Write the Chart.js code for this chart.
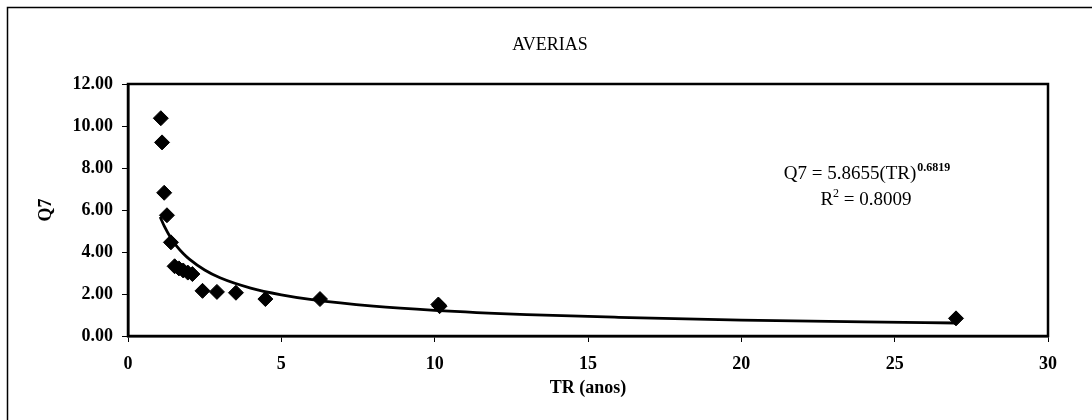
<!DOCTYPE html>
<html><head><meta charset="utf-8">
<script src="https://cdn.jsdelivr.net/npm/chart.js@4.4.0/dist/chart.umd.min.js"></script>
<style>html,body{margin:0;padding:0;background:#fff;}</style>
</head><body>
<canvas id="c" width="1092" height="420"></canvas>
<script>
const chartTitle = 'AVERIAS';
const xAxisTitle = 'TR (anos)';
const yAxisTitle = 'Q7';
const xTicks = [0, 5, 10, 15, 20, 25, 30];
const yTicks = [0, 2, 4, 6, 8, 10, 12];
const obsTR = [1.07, 1.11, 1.18, 1.27, 1.40, 1.52, 1.66, 1.80, 1.95, 2.10, 2.43, 2.90, 3.52, 4.48, 6.26, 10.12, 10.16, 27.0];
const obsQ7 = [10.37, 9.22, 6.82, 5.75, 4.46, 3.32, 3.22, 3.12, 3.02, 2.95, 2.15, 2.10, 2.06, 1.76, 1.76, 1.50, 1.42, 0.84];
const trendTR = [1.05, 1.2, 1.4, 1.6, 1.8, 2.0, 2.5, 3, 4, 5, 6, 8, 10, 13, 16, 20, 24, 27];
const trendQ7 = [5.67, 5.18, 4.66, 4.26, 3.93, 3.66, 3.14, 2.77, 2.28, 1.96, 1.73, 1.42, 1.22, 1.02, 0.89, 0.76, 0.67, 0.62];
const eqMain = 'Q7 = 5.8655(TR)';
const eqExp = '0.6819';
const r2Main = 'R';
const r2Sup = '2';
const r2Rest = ' = 0.8009';

const FONT = '"Liberation Serif", "Times New Roman", serif';

const decor = {
  id: 'decor',
  afterDraw(chart) {
    const {ctx, chartArea: a} = chart;
    ctx.save();
    ctx.strokeStyle = '#000';
    ctx.lineWidth = 1.5;
    ctx.strokeRect(7.5, 7.5, 1120, 440);
    ctx.lineWidth = 2.5;
    ctx.strokeRect(a.left, a.top, a.right - a.left, a.bottom - a.top);
    ctx.fillStyle = '#000';
    ctx.textBaseline = 'alphabetic';
    ctx.textAlign = 'center';
    ctx.font = '18px ' + FONT;
    ctx.fillText(chartTitle, 550, 50);
    // equation line 1
    ctx.textAlign = 'left';
    ctx.font = '19px ' + FONT;
    const mw = ctx.measureText(eqMain).width;
    ctx.font = 'bold 12px ' + FONT;
    const ew = ctx.measureText(eqExp).width;
    let x0 = 867 - (mw + ew + 1) / 2;
    ctx.font = '19px ' + FONT;
    ctx.fillText(eqMain, x0, 179);
    ctx.font = 'bold 12px ' + FONT;
    ctx.fillText(eqExp, x0 + mw + 1, 171);
    // line 2
    ctx.font = '19px ' + FONT;
    const rw = ctx.measureText(r2Main).width;
    const restW = ctx.measureText(r2Rest).width;
    ctx.font = '12px ' + FONT;
    const sw = ctx.measureText(r2Sup).width;
    x0 = 866 - (rw + sw + restW) / 2;
    ctx.font = '19px ' + FONT;
    ctx.fillText(r2Main, x0, 205);
    ctx.font = '12px ' + FONT;
    ctx.fillText(r2Sup, x0 + rw, 197);
    ctx.font = '19px ' + FONT;
    ctx.fillText(r2Rest, x0 + rw + sw, 205);
    ctx.restore();
  }
};

new Chart(document.getElementById('c'), {
  type: 'scatter',
  data: {
    datasets: [
      {
        label: 'Q7',
        data: obsTR.map((x, i) => ({x: x, y: obsQ7[i]})),
        pointStyle: 'rectRot',
        pointRadius: 7.5,
        pointHoverRadius: 7.5,
        backgroundColor: '#000',
        borderColor: '#000',
        borderWidth: 1,
        order: 2
      },
      {
        label: 'Tendencia',
        type: 'line',
        data: trendTR.map((x, i) => ({x: x, y: trendQ7[i]})),
        showLine: true,
        pointRadius: 0,
        borderColor: '#000',
        borderWidth: 2.8,
        cubicInterpolationMode: 'monotone',
        fill: false,
        order: 1
      }
    ]
  },
  options: {
    responsive: false,
    animation: false,
    devicePixelRatio: 1,
    layout: {padding: {left: 10, right: 44, top: 84, bottom: 10}},
    plugins: {legend: {display: false}, title: {display: false}, tooltip: {enabled: false}},
    scales: {
      x: {
        type: 'linear', min: 0, max: 30,
        afterBuildTicks: s => { s.ticks = xTicks.map(v => ({value: v})); },
        afterFit: s => { s.height = 74; },
        ticks: {color: '#000', font: {family: FONT, size: 18, weight: 'bold'}, padding: 12, maxRotation: 0, callback: v => String(v)},
        grid: {display: true, drawOnChartArea: false, drawTicks: true, tickLength: 6, tickColor: '#000', color: '#000'},
        border: {display: true, color: '#000', width: 2.5},
        title: {display: true, text: xAxisTitle, color: '#000', font: {family: FONT, size: 18, weight: 'bold'}, padding: {top: 0, bottom: 11}}
      },
      y: {
        type: 'linear', min: 0, max: 12,
        afterBuildTicks: s => { s.ticks = yTicks.map(v => ({value: v})); },
        afterFit: s => { s.width = 118; },
        ticks: {color: '#000', font: {family: FONT, size: 18, weight: 'bold'}, padding: 9, callback: v => Number(v).toFixed(2)},
        grid: {display: true, drawOnChartArea: false, drawTicks: true, tickLength: 6, tickColor: '#000', color: '#000'},
        border: {display: true, color: '#000', width: 2.5},
        title: {display: true, text: yAxisTitle, color: '#000', font: {family: FONT, size: 18, weight: 'bold'}, padding: {top: 26, bottom: 0}}
      }
    }
  },
  plugins: [decor]
});
</script>
</body></html>
